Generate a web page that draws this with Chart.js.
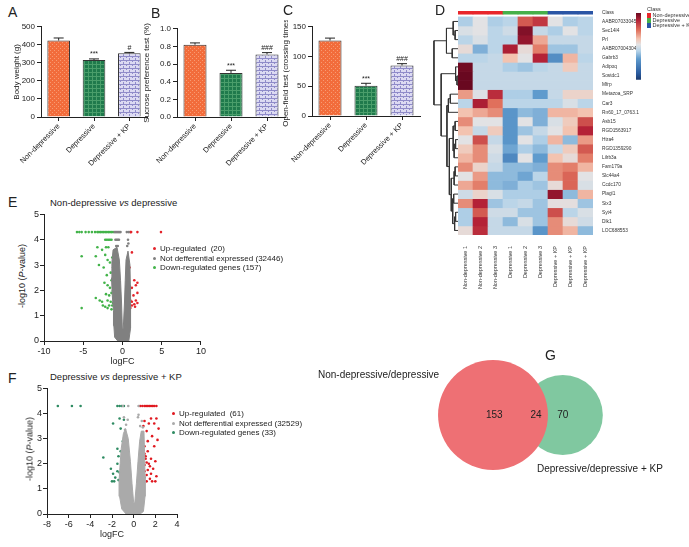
<!DOCTYPE html>
<html>
<head>
<meta charset="utf-8">
<script src="https://cdn.jsdelivr.net/npm/chart.js@4.4.1/dist/chart.umd.min.js"></script>
<style>
body { margin: 0; background: #fff; font-family: 'Liberation Sans', Arial, sans-serif; color: #222; }
#fig { position: relative; width: 689px; height: 547px; overflow: hidden; background: #fff; }
#fig canvas { position: absolute; }
.t { position: absolute; white-space: pre; line-height: 1; }
.letter { font-size: 14px; }
.ptitle { font-size: 9.5px; }
.leg { font-size: 8px; }
.leg div { height: 9.5px; }
.dot { display: inline-block; width: 3px; height: 3px; border-radius: 50%; margin-right: 4px; vertical-align: middle; }
.ytitle { font-size: 9px; transform: translate(-50%, -50%) rotate(-90deg); }
.cls { font-size: 5.5px; color: #333; }
.cls span { display: inline-block; width: 4px; height: 4.5px; margin-right: 1.5px; vertical-align: middle; }
.venn { font-size: 10px; }
</style>
</head>
<body>
<div id="fig">
  <canvas id="chartA" width="150" height="151" style="left:0;top:20px"></canvas>
  <canvas id="chartB" width="152" height="149" style="left:136px;top:22px"></canvas>
  <canvas id="chartC" width="152" height="150" style="left:271px;top:20px"></canvas>
  <canvas id="dendro" width="25" height="230" style="left:433px;top:5px"></canvas>
  <canvas id="heat" width="185" height="292" style="left:458px;top:5px"></canvas>
  <canvas id="colorbar" width="17" height="80" style="left:634px;top:5px"></canvas>
  <canvas id="volcE" width="177" height="161" style="left:30px;top:208px"></canvas>
  <canvas id="volcF" width="150" height="160" style="left:33px;top:382px"></canvas>
  <canvas id="venn" width="389" height="207" style="left:300px;top:340px"></canvas>

  <div class="t letter" style="left:8px;top:5px">A</div>
  <div class="t letter" style="left:151px;top:6px">B</div>
  <div class="t letter" style="left:283px;top:3px">C</div>
  <div class="t letter" style="left:435px;top:3px">D</div>
  <div class="t letter" style="left:8px;top:195px">E</div>
  <div class="t letter" style="left:8px;top:371px">F</div>
  <div class="t letter" style="left:545px;top:348px">G</div>

  <div class="t cls" style="left:647px;top:7px">Class</div>
  <div class="t cls" style="left:647px;top:13px"><span style="background:#e8262b"></span>Non-depressive</div>
  <div class="t cls" style="left:647px;top:18px"><span style="background:#46b04a"></span>Depressive</div>
  <div class="t cls" style="left:647px;top:23px"><span style="background:#2a55a5"></span>Depressive + KP</div>

  <div class="t ptitle" style="left:50px;top:198px">Non-depressive <i>vs</i> depressive</div>
  <div class="t ytitle" style="left:22px;top:276px">-log10 (<i>P</i>-value)</div>
  <div class="t leg" id="legE" style="left:153px;top:245px"></div>

  <div class="t ptitle" style="left:50px;top:372px">Depressive <i>vs</i> depressive + KP</div>
  <div class="t ytitle" style="left:30px;top:449px">-log10 (<i>P</i>-value)</div>
  <div class="t leg" id="legF" style="left:172px;top:410px"></div>

  <div class="t venn" id="vennA" style="left:318px;top:370px"></div>
  <div class="t venn" id="vennB" style="left:537px;top:464px"></div>
</div>
<script>
// ---------- data: behaviour tests (A-C) ----------
const groupNames = ['Non-depressive', 'Depressive', 'Depressive + KP'];
const bodyWeight = [424, 316, 353];
const bodyWeightErr = [14, 6, 5];
const bodyWeightSig = ['', '***', '#'];
const sucrose = [0.82, 0.50, 0.71];
const sucroseErr = [0.02, 0.03, 0.02];
const sucroseSig = ['', '***', '###'];
const openField = [127, 51, 85];
const openFieldErr = [4, 4, 3];
const openFieldSig = ['', '***', '###'];

// ---------- data: heatmap (D) ----------
const sampleNames = ['Non-depressive 1', 'Non-depressive 2', 'Non-depressive 3',
  'Depressive 1', 'Depressive 2', 'Depressive 3',
  'Depressive + KP', 'Depressive + KP', 'Depressive + KP'];
const sampleGroup = [0, 0, 0, 1, 1, 1, 2, 2, 2];
const geneNames = ['AABR07033045.1', 'Sec14l4', 'Prl', 'AABR07004304.1', 'Gabrb3', 'Adipoq',
  'Sostdc1', 'Mfrp', 'Metazoa_SRP', 'Car3', 'Rn60_17_0763.1', 'Asb15', 'RGD1563917', 'Htra4',
  'RGD1359290', 'Lilrb3a', 'Fam179a', 'Slc44a4', 'Ccdc170', 'Plagl1', 'Six3', 'Syt4', 'Dlk1', 'LOC688553'];
const heatValues = [
  [-0.5, 0.0, -0.5, -0.4, 1.2, 1.5, 0.0, -0.5, -0.4],
  [-0.1, 0.0, -0.4, -0.2, 2.3, -0.3, -0.5, 0.0, -0.4],
  [-0.4, -0.1, -0.4, -0.4, 2.1, 0.6, -0.3, -0.3, -0.3],
  [0.1, -0.8, -0.4, 1.8, 0.1, 0.9, -0.6, -0.6, -0.3],
  [-0.4, -0.4, -0.3, 0.4, 0.0, 1.7, -1.2, 0.5, -0.4],
  [2.5, -0.3, -0.3, -0.5, -0.6, -0.4, -0.3, 0.3, -0.3],
  [2.6, -0.3, -0.3, -0.3, -0.3, -0.3, -0.3, -0.3, -0.3],
  [2.6, -0.3, -0.3, -0.3, -0.3, -0.3, -0.3, -0.3, -0.3],
  [0.7, -0.05, 1.6, -0.5, -0.5, -1.0, -0.3, 0.2, 0.2],
  [-0.4, 1.8, 1.0, -0.4, -0.4, -0.4, -0.4, -0.1, -0.4],
  [0.4, 0.6, 0.8, -1.1, -0.7, -0.8, 0.5, 0.5, 0.4],
  [0.8, 0.0, 0.0, -1.1, 0.0, -0.8, -0.1, 0.3, 1.3],
  [0.4, -0.3, 0.3, -1.1, -0.6, -0.3, 0.0, 0.4, 1.7],
  [0.0, 1.3, -0.3, -1.1, 0.0, -0.5, 0.5, -0.7, 0.7],
  [0.3, 0.8, -0.1, -0.9, -0.5, -0.7, -0.3, 0.3, 1.2],
  [0.5, 0.8, -0.2, -1.3, 0.0, -1.0, 0.4, 0.1, 0.9],
  [0.8, 0.2, -0.3, -0.7, -0.7, -0.8, 0.8, 0.9, 0.5],
  [0.0, 0.7, -0.7, -0.7, -0.9, -0.4, 0.8, 1.1, 0.0],
  [0.6, 0.9, -0.7, -0.8, -0.5, -0.6, 0.1, 1.1, -0.1],
  [-0.2, 0.2, -0.1, -0.5, -0.5, -0.5, 2.1, -0.7, 0.5],
  [0.8, 1.7, -0.6, -0.4, -0.3, -0.6, 0.05, 0.05, -0.6],
  [-0.5, 1.2, -0.2, -0.2, -0.6, -0.6, 1.3, -0.4, -0.1],
  [-0.5, 1.7, -0.3, -0.7, -0.1, -0.6, 0.8, 0.1, -0.2],
  [0.1, 1.6, -0.3, -0.3, -0.3, -1.1, 0.8, 0.5, -0.7]
];
// row dendrogram, linkage style: [left, right, height]; leaves 0..23, new nodes from 24
const dendroMerges = [
  [1, 2, 0.6], [0, 24, 1.0], [3, 4, 1.2], [25, 26, 2.4],
  [6, 7, 0.2], [5, 28, 0.5],
  [8, 9, 1.6], [30, 10, 2.0],
  [11, 12, 0.6], [13, 14, 0.5], [33, 15, 0.8], [32, 34, 1.0],
  [16, 17, 0.6], [36, 18, 0.8], [19, 20, 0.9], [21, 22, 0.5], [39, 23, 0.7], [38, 40, 1.1], [37, 41, 1.4],
  [35, 42, 1.8], [31, 43, 2.3], [29, 44, 3.5], [27, 45, 5.0]
];
const colorbarTicks = [-2, -1, 0, 1, 2];

// ---------- data: volcano plots (E, F) ----------
const eLegend = ['Up-regulated  (20)', 'Not defferential expressed (32446)', 'Down-regulated genes (157)'];
const eUp = [[1.0, 4.3], [1.1, 4.3], [1.9, 4.3], [4.9, 4.3], [1.2, 3.5], [0.9, 2.9], [1.5, 2.4], [1.9, 2.3],
  [1.7, 2.2], [1.2, 2.1], [1.9, 1.9], [1.4, 1.8], [1.0, 1.6], [1.2, 1.55], [1.7, 1.6], [1.9, 1.5],
  [1.2, 1.4], [1.5, 1.45], [1.0, 1.3], [1.6, 1.35]];
const eDown = [[-5.8, 4.3], [-5.5, 4.3], [-5.2, 4.3], [-4.7, 4.3], [-4.3, 4.3], [-3.9, 4.3], [-3.5, 4.3],
  [-3.2, 4.3], [-3.0, 4.3], [-2.8, 4.3], [-2.6, 4.3], [-2.4, 4.3], [-2.2, 4.3], [-2.0, 4.3], [-1.8, 4.3],
  [-1.6, 4.3], [-1.4, 4.3], [-1.2, 4.3], [-2.2, 4.0], [-2.0, 4.0], [-1.8, 4.0], [-1.6, 4.0], [-1.4, 4.0],
  [-3.2, 3.7], [-2.1, 3.7], [-1.8, 3.7], [-5.2, 3.35], [-3.4, 3.35], [-2.6, 3.6], [-2.2, 3.4], [-1.9, 3.2],
  [-1.6, 3.1], [-3.0, 3.0], [-2.4, 2.9], [-1.5, 2.7], [-2.0, 2.6], [-1.2, 2.9], [-1.4, 2.4], [-2.3, 2.3],
  [-1.9, 2.2], [-1.6, 2.1], [-1.2, 2.0], [-1.4, 1.9], [-2.1, 1.85], [-1.7, 1.8], [-1.1, 1.8], [-2.9, 1.6],
  [-1.9, 1.6], [-1.5, 1.55], [-1.2, 1.5], [-3.4, 1.7], [-2.6, 1.55], [-1.7, 1.4], [-1.3, 1.4], [-2.2, 1.35],
  [-1.0, 1.35], [-5.2, 1.3], [-1.9, 1.3], [-1.4, 1.25], [-2.5, 1.4], [-1.1, 2.5], [-1.3, 3.3], [-1.0, 3.0]];
const eNotDiff = [[-1.0, 4.3], [-0.85, 4.3], [-0.7, 4.3], [-0.55, 4.3], [-0.4, 4.3], [-0.25, 4.3], [0.55, 4.3],
  [0.8, 4.3], [-0.9, 4.0], [-0.75, 4.0], [-0.6, 4.0], [-0.45, 4.0], [0.7, 4.0], [-0.8, 3.75], [-0.6, 3.75],
  [0.6, 3.75], [0.75, 3.85]];
const eCloud = [[-0.6, 0], [-1.0, 0.15], [-1.1, 0.6], [-1.15, 1.2], [-1.3, 1.8], [-1.4, 2.5], [-1.35, 3.1],
  [-1.2, 3.6], [-0.7, 3.7], [-0.4, 3.2], [-0.25, 2.4], [-0.12, 1.5], [-0.02, 0.5], [0.1, 0.5], [0.25, 1.5],
  [0.35, 2.4], [0.45, 3.2], [0.7, 3.55], [0.95, 3.0], [1.0, 2.2], [1.05, 1.2], [1.0, 0.5], [0.8, 0]];

const fLegend = ['Up-regulated  (61)', 'Not defferential expressed (32529)', 'Down-regulated genes (33)'];
const fUp = [[0.6, 4.3], [0.8, 4.3], [1.0, 4.3], [1.15, 4.3], [1.3, 4.3], [1.45, 4.3], [1.6, 4.3], [1.75, 4.3],
  [1.9, 4.3], [2.1, 4.3], [1.6, 3.8], [2.1, 3.8], [1.0, 3.7], [1.4, 3.6], [0.9, 3.5], [1.9, 3.6], [2.3, 3.4],
  [1.2, 3.3], [1.7, 3.1], [2.2, 2.95], [1.3, 2.9], [1.0, 2.7], [1.9, 2.7], [1.3, 2.5], [1.0, 2.4], [1.1, 2.3],
  [1.6, 2.2], [2.0, 2.1], [1.2, 2.05], [1.0, 1.95], [1.5, 1.9], [1.8, 1.8], [1.3, 1.75], [1.0, 1.7], [1.6, 1.6],
  [1.2, 1.55], [2.1, 1.5], [1.0, 1.45], [1.5, 1.4], [1.7, 1.3], [1.2, 1.3], [2.0, 1.3], [1.1, 2.2], [1.4, 2.0],
  [0.9, 1.35]];
const fDown = [[-7.0, 4.3], [-5.7, 4.3], [-4.9, 4.3], [-1.5, 4.3], [-1.3, 4.3], [-1.1, 4.3], [-0.9, 4.3],
  [-1.3, 3.8], [-0.9, 3.75], [-1.9, 3.6], [-1.2, 3.4], [-0.8, 3.0], [-1.0, 2.9], [-2.8, 2.25], [-1.5, 2.6],
  [-1.2, 2.5], [-1.4, 2.3], [-1.0, 2.2], [-1.5, 2.0], [-1.1, 1.9], [-2.1, 1.8], [-1.5, 1.7], [-1.9, 1.6],
  [-1.3, 1.65], [-1.7, 1.45], [-1.0, 1.5], [-1.4, 1.35], [-2.0, 1.3], [-1.8, 1.3]];
const fNotDiff = [[-1.0, 4.3], [-0.5, 4.3], [0.45, 4.3], [-0.9, 3.85], [-0.55, 3.75], [0.4, 3.85], [0.75, 3.7],
  [-0.7, 3.55], [0.6, 3.5], [0.85, 3.45], [-0.8, 3.35], [0.45, 3.95]];
const fCloud = [[-0.7, 0], [-1.1, 0.2], [-1.3, 0.7], [-1.35, 1.3], [-1.25, 2.0], [-1.15, 2.6], [-0.95, 3.2],
  [-0.75, 3.4], [-0.5, 3.0], [-0.3, 2.1], [-0.15, 1.2], [0.0, 0.45], [0.1, 0.45], [0.25, 1.2], [0.4, 2.1],
  [0.55, 2.9], [0.7, 3.3], [0.95, 3.3], [1.0, 2.5], [1.05, 1.5], [1.05, 0.7], [0.9, 0.1], [0.6, 0]];

// ---------- data: Venn (G) ----------
const vennSetNames = ['Non-depressive/depressive', 'Depressive/depressive + KP'];
const vennSetSizes = [177, 94];
const vennRegionCounts = [153, 24, 70];

// ---------- defaults ----------
Chart.defaults.font.family = "'Liberation Sans', Arial, sans-serif";
Chart.defaults.color = '#222';
Chart.defaults.animation = false;
Chart.defaults.plugins.legend.display = false;
Chart.defaults.plugins.tooltip.enabled = false;

const axisColor = '#222';

// bar fill patterns
function makePattern(bg, fg, kind) {
  const c = document.createElement('canvas');
  c.width = kind === 'brick' ? 6 : 4;
  c.height = 4;
  const g = c.getContext('2d');
  g.fillStyle = bg;
  g.fillRect(0, 0, c.width, c.height);
  g.fillStyle = fg;
  if (kind === 'dots') { g.fillRect(0, 0, 1, 1); g.fillRect(2, 2, 1, 1); }
  if (kind === 'grid') { g.fillRect(0, 0, 4, 1); g.fillRect(0, 0, 1, 4); }
  if (kind === 'brick') { g.fillRect(0, 0, 6, 1); g.fillRect(0, 0, 1, 2); g.fillRect(3, 2, 1, 2); }
  return g.createPattern(c, 'repeat');
}
const barFills = [
  makePattern('#f26c3b', '#f89a72', 'dots'),
  makePattern('#1f7a4c', '#4a9e6b', 'grid'),
  makePattern('#dcdaf2', '#8f8bc9', 'brick')
];

function errorBarPlugin(errs, sig) {
  return {
    id: 'errorBars',
    afterDatasetsDraw(chart) {
      const c = chart.ctx;
      const y = chart.scales.y;
      const vals = chart.data.datasets[0].data;
      c.save();
      c.strokeStyle = axisColor;
      c.fillStyle = axisColor;
      c.lineWidth = 1;
      chart.getDatasetMeta(0).data.forEach((bar, i) => {
        const top = y.getPixelForValue(vals[i] + errs[i]);
        const base = y.getPixelForValue(vals[i]);
        c.beginPath();
        c.moveTo(bar.x, base);
        c.lineTo(bar.x, top);
        c.moveTo(bar.x - 5, top);
        c.lineTo(bar.x + 5, top);
        c.stroke();
        if (sig[i]) {
          c.font = "7px 'Liberation Sans', Arial";
          c.textAlign = 'center';
          c.textBaseline = 'bottom';
          c.fillText(sig[i], bar.x, top - 1);
        }
      });
      c.restore();
    }
  };
}

function barChart(id, vals, errs, sig, yMax, yStep, yTitle, decimals, titlePad) {
  return new Chart(document.getElementById(id), {
    type: 'bar',
    data: {
      labels: groupNames,
      datasets: [{ data: vals, backgroundColor: barFills, borderColor: '#333', borderWidth: 1,
        barPercentage: 0.64, categoryPercentage: 1 }]
    },
    options: {
      responsive: false,
      layout: { padding: { top: 5, right: 3 } },
      scales: {
        x: {
          grid: { drawOnChartArea: false, offset: false, tickLength: 4, color: axisColor },
          border: { color: axisColor },
          ticks: { minRotation: 45, maxRotation: 45, font: { size: 7.5 }, padding: 1 },
          afterFit: s => { s.height = 54; }
        },
        y: {
          min: 0, max: yMax,
          ticks: { stepSize: yStep, font: { size: 8 }, padding: 2, callback: v => v.toFixed(decimals) },
          grid: { drawOnChartArea: false, tickLength: 4, color: axisColor },
          border: { color: axisColor },
          title: { display: true, text: yTitle, font: { size: 8 }, padding: { top: titlePad, bottom: 0 } },
          afterFit: s => { s.width = 41; }
        }
      }
    },
    plugins: [errorBarPlugin(errs, sig)]
  });
}

barChart('chartA', bodyWeight, bodyWeightErr, bodyWeightSig, 500, 100, 'Body weight (g)', 0, 12);
barChart('chartB', sucrose, sucroseErr, sucroseSig, 1.0, 0.2, 'Sucrose preference test (%)', 1, 6);
barChart('chartC', openField, openFieldErr, openFieldSig, 150, 50, 'Open-field test (crossing times)', 0, 10);

// ---------- heatmap ----------
const heatStops = [[-2.5, [27, 58, 110]], [-2, [42, 92, 160]], [-1, [95, 155, 205]], [-0.45, [182, 211, 232]],
  [0, [226, 226, 228]], [0.4, [243, 195, 176]], [1, [224, 112, 92]], [1.7, [180, 34, 55]], [2.6, [105, 8, 32]]];
function heatColor(v) {
  if (v <= heatStops[0][0]) return 'rgb(' + heatStops[0][1].join(',') + ')';
  for (let i = 1; i < heatStops.length; i++) {
    if (v <= heatStops[i][0]) {
      const [v0, c0] = heatStops[i - 1];
      const [v1, c1] = heatStops[i];
      const t = (v - v0) / (v1 - v0);
      return 'rgb(' + c0.map((c, k) => Math.round(c + (c1[k] - c) * t)).join(',') + ')';
    }
  }
  return 'rgb(' + heatStops[heatStops.length - 1][1].join(',') + ')';
}
const classColors = ['#e8262b', '#46b04a', '#2a55a5'];
const heatTop = -0.65;

const heatDatasets = [{
  data: sampleNames.map(() => [heatTop, -0.3]),
  backgroundColor: sampleGroup.map(g => classColors[g])
}].concat(geneNames.map((g, r) => ({
  data: sampleNames.map(() => [r, r + 1]),
  backgroundColor: heatValues[r].map(heatColor)
})));
heatDatasets.forEach(ds => Object.assign(ds, { grouped: false, barPercentage: 1, categoryPercentage: 1, borderWidth: 0 }));

new Chart(document.getElementById('heat'), {
  type: 'bar',
  data: { labels: sampleNames, datasets: heatDatasets },
  options: {
    responsive: false,
    layout: { padding: { top: 6, left: 0 } },
    scales: {
      x: {
        grid: { display: false }, border: { display: false },
        ticks: { minRotation: 90, maxRotation: 90, font: { size: 5.5 }, color: '#333', padding: 3, autoSkip: false },
        afterFit: s => { s.height = 62; }
      },
      y: {
        position: 'right', reverse: true, min: heatTop, max: geneNames.length, bounds: 'data',
        grid: { display: false }, border: { display: false },
        afterBuildTicks: s => {
          s.ticks = [{ value: -0.475 }].concat(geneNames.map((g, i) => ({ value: i + 0.5 })));
        },
        ticks: { autoSkip: false, font: { size: 4.8 }, color: '#333', padding: 1,
          callback: (v, i) => i === 0 ? 'Class' : geneNames[i - 1] },
        afterFit: s => { s.width = 50; }
      }
    }
  }
});

// dendrogram from the merge list
const nodeY = geneNames.map((g, i) => i + 0.5);
const nodeH = geneNames.map(() => 0);
const dendroSets = dendroMerges.map(([a, b, h]) => {
  nodeY.push((nodeY[a] + nodeY[b]) / 2);
  nodeH.push(h);
  return {
    data: [{ x: nodeH[a], y: nodeY[a] }, { x: h, y: nodeY[a] }, { x: h, y: nodeY[b] }, { x: nodeH[b], y: nodeY[b] }],
    showLine: true, borderColor: '#333', borderWidth: 1, pointRadius: 0
  };
});
new Chart(document.getElementById('dendro'), {
  type: 'scatter',
  data: { datasets: dendroSets },
  options: {
    responsive: false,
    layout: { padding: { top: 6 } },
    scales: {
      x: { display: false, reverse: true, min: 0, max: 5.2 },
      y: { display: false, reverse: true, min: heatTop, max: geneNames.length }
    }
  }
});

// colour key
new Chart(document.getElementById('colorbar'), {
  type: 'bar',
  data: {
    labels: [''],
    datasets: [{
      data: [[-2.45, 2.2]], barPercentage: 1, categoryPercentage: 1, borderWidth: 0,
      backgroundColor: ctx => {
        const chart = ctx.chart;
        const area = chart.chartArea;
        if (!area) return '#ccc';
        const y = chart.scales.y;
        const g = chart.ctx.createLinearGradient(0, area.bottom, 0, area.top);
        heatStops.forEach(([v, c]) => {
          const f = (area.bottom - y.getPixelForValue(v)) / (area.bottom - area.top);
          g.addColorStop(Math.min(1, Math.max(0, f)), 'rgb(' + c.join(',') + ')');
        });
        return g;
      }
    }]
  },
  options: {
    responsive: false,
    layout: { padding: { top: 8, left: 2, bottom: 3 } },
    scales: {
      x: { display: false },
      y: {
        position: 'right', min: -2.45, max: 2.2, bounds: 'data',
        grid: { display: false }, border: { display: false },
        afterBuildTicks: s => { s.ticks = colorbarTicks.map(v => ({ value: v })); },
        ticks: { font: { size: 5.5 }, color: '#333', padding: 2 },
        afterFit: s => { s.width = 10; }
      }
    }
  }
});

// ---------- volcano plots ----------
function pts(list) { return list.map(([x, y]) => ({ x, y })); }

function volcano(id, cloud, grey, up, down, colors, xMin, xMax, xStep) {
  new Chart(document.getElementById(id), {
    type: 'scatter',
    data: {
      datasets: [
        { type: 'line', data: pts(cloud), fill: 'shape', backgroundColor: colors.grey, borderColor: colors.grey,
          borderWidth: 1, pointRadius: 0, tension: 0 },
        { data: pts(grey), backgroundColor: colors.grey, pointRadius: 1.3, borderWidth: 0 },
        { data: pts(down), backgroundColor: colors.down, pointRadius: 1.3, borderWidth: 0 },
        { data: pts(up), backgroundColor: colors.up, pointRadius: 1.3, borderWidth: 0 }
      ]
    },
    options: {
      responsive: false,
      layout: { padding: { top: 5, right: 6 } },
      scales: {
        x: {
          type: 'linear', min: xMin, max: xMax,
          ticks: { stepSize: xStep, font: { size: 9 }, padding: 1 },
          grid: { drawOnChartArea: false, tickLength: 4, color: axisColor },
          border: { color: axisColor },
          title: { display: true, text: 'logFC', font: { size: 9 }, padding: { top: 0, bottom: 2 } },
          afterFit: s => { s.height = 28; }
        },
        y: {
          min: 0, max: 5,
          ticks: { stepSize: 1, font: { size: 9 }, padding: 1 },
          grid: { drawOnChartArea: false, tickLength: 4, color: axisColor },
          border: { color: axisColor },
          afterFit: s => { s.width = 14; }
        }
      }
    }
  });
}

const eColors = { up: '#e3242b', down: '#42b349', grey: '#808080' };
const fColors = { up: '#e0181f', down: '#2e8b62', grey: '#aaaaaa' };
volcano('volcE', eCloud, eNotDiff, eUp, eDown, eColors, -10, 10, 5);
volcano('volcF', fCloud, fNotDiff, fUp, fDown, fColors, -8, 4, 2);

function fillLegend(id, texts, colors) {
  const cols = [colors.up, colors.grey, colors.down];
  document.getElementById(id).innerHTML = texts
    .map((t, i) => '<div><span class="dot" style="background:' + cols[i] + '"></span>' + t + '</div>')
    .join('');
}
fillLegend('legE', eLegend, eColors);
fillLegend('legF', fLegend, fColors);

// ---------- Venn ----------
const vennCenterX = [0, 16.9];
const vennLabelX = [0.3, 10.4, 16.9];
const vennFill = ['rgb(238,112,116)', 'rgba(43,163,97,0.6)'];
document.getElementById('vennA').textContent = vennSetNames[0];
document.getElementById('vennB').textContent = vennSetNames[1];

new Chart(document.getElementById('venn'), {
  type: 'scatter',
  data: {
    datasets: vennSetSizes.map((n, i) => ({
      data: [{ x: vennCenterX[i], y: 0, size: n }],
      backgroundColor: vennFill[i],
      borderWidth: 0,
      pointRadius: ctx => {
        const s = ctx.chart.scales.x;
        return s.getPixelForValue(Math.sqrt(ctx.raw.size)) - s.getPixelForValue(0);
      }
    }))
  },
  options: {
    responsive: false,
    layout: { padding: 0 },
    scales: {
      x: { display: false, min: -46.73, max: 47.46 },
      y: { display: false, min: -31.96, max: 18.16 }
    }
  },
  plugins: [{
    id: 'vennCounts',
    afterDatasetsDraw(chart) {
      const c = chart.ctx;
      c.save();
      c.fillStyle = '#222';
      c.font = "10px 'Liberation Sans', Arial";
      c.textAlign = 'center';
      c.textBaseline = 'middle';
      vennRegionCounts.forEach((n, i) => {
        c.fillText(String(n), chart.scales.x.getPixelForValue(vennLabelX[i]), chart.scales.y.getPixelForValue(0));
      });
      c.restore();
    }
  }]
});
</script>
</body>
</html>
